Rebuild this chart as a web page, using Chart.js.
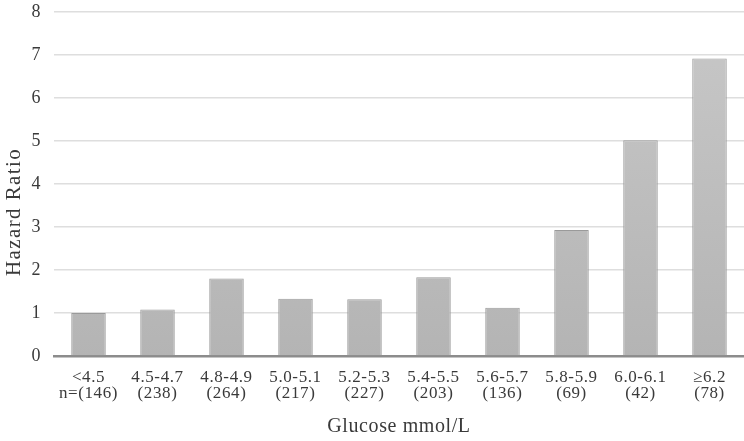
<!DOCTYPE html>
<html>
<head>
<meta charset="utf-8">
<script src="https://cdn.jsdelivr.net/npm/chart.js@4.4.1/dist/chart.umd.min.js"></script>
<style>
    html, body { margin: 0; padding: 0; background: #fff; }
    #wrap { width: 744px; height: 441px; }
</style>
</head>
<body>
<div id="wrap"><canvas id="chart"></canvas></div>
<script>
// categories and the n counts under them
const ranges = ['<4.5', '4.5-4.7', '4.8-4.9', '5.0-5.1', '5.2-5.3', '5.4-5.5', '5.6-5.7', '5.8-5.9', '6.0-6.1', '\u22656.2'];
const counts = ['n=(146)', '(238)', '(264)', '(217)', '(227)', '(203)', '(136)', '(69)', '(42)', '(78)'];
const hazardRatio = [1.0, 1.08, 1.8, 1.33, 1.32, 1.83, 1.12, 2.93, 5.02, 6.92];
const yTicks = [0, 1, 2, 3, 4, 5, 6, 7, 8];
const yTitle = 'Hazard Ratio';

const labels = ranges.map((r, i) => [r, counts[i]]);
const FONT = "'Liberation Serif', 'Times New Roman', serif";
const TEXT = '#3a3a3a';

const ctx = document.getElementById('chart').getContext('2d');

function barFill(context)
{
    const area = context.chart.chartArea;
    if (!area) return '#c2c2c2';
    const g = context.chart.ctx.createLinearGradient(0, area.top, 0, area.bottom);
    g.addColorStop(0, '#c8c8c8');
    g.addColorStop(1, '#b4b4b4');
    return g;
}

// the reference type is set a little loose
const spacing = {
    id: 'spacing',
    beforeLayout: chart => { chart.ctx.letterSpacing = '0.6px'; },
    beforeDraw:   chart => { chart.ctx.letterSpacing = '0.6px'; }
};

// y title sits a bit below the middle of the axis in the reference
const yTitlePlugin = {
    id: 'yTitle',
    afterDraw: chart => {
        const c = chart.ctx;
        const y = chart.scales.y;
        c.save();
        c.letterSpacing = '1.4px';
        c.fillStyle = TEXT;
        c.font = '21px ' + FONT;
        c.textAlign = 'center';
        c.textBaseline = 'middle';
        c.translate(14, y.getPixelForValue(3.35));
        c.rotate(-Math.PI / 2);
        c.fillText(yTitle, 0, 0);
        c.restore();
    }
};

new Chart(ctx, {
    type: 'bar',
    data: {
        labels: labels,
        datasets: [{
            data: hazardRatio,
            backgroundColor: barFill,
            borderColor: '#9a9a9a',
            borderWidth: 1,
            categoryPercentage: 1.0,
            barPercentage: 0.5
        }]
    },
    options: {
        responsive: true,
        maintainAspectRatio: false,
        animation: false,
        layout: { padding: { top: 12, right: 0, left: 0, bottom: 0 } },
        plugins: {
            legend: { display: false },
            tooltip: { enabled: false }
        },
        scales: {
            x: {
                afterFit: axis => { axis.height = 85; },
                grid: { display: false, drawTicks: false },
                border: { display: true, color: '#8c8c8c', width: 2.5 },
                ticks: {
                    color: TEXT,
                    font: { family: FONT, size: 17, lineHeight: 0.98 },
                    padding: 13,
                    maxRotation: 0,
                    autoSkip: false
                },
                title: {
                    display: true,
                    text: 'Glucose mmol/L',
                    color: TEXT,
                    font: { family: FONT, size: 20 },
                    padding: { top: 0, bottom: 2 }
                }
            },
            y: {
                min: 0,
                max: 8,
                afterFit: axis => {
                    axis.width = 54;
                    axis.paddingTop = 0;
                    axis.paddingBottom = 0;
                },
                afterBuildTicks: axis => { axis.ticks = yTicks.map(v => ({ value: v })); },
                grid: { color: '#dedede', lineWidth: 1.5, drawTicks: false },
                border: { display: false },
                ticks: {
                    color: TEXT,
                    font: { family: FONT, size: 18 },
                    padding: 13
                }
            }
        }
    },
    plugins: [spacing, yTitlePlugin]
});
</script>
</body>
</html>
